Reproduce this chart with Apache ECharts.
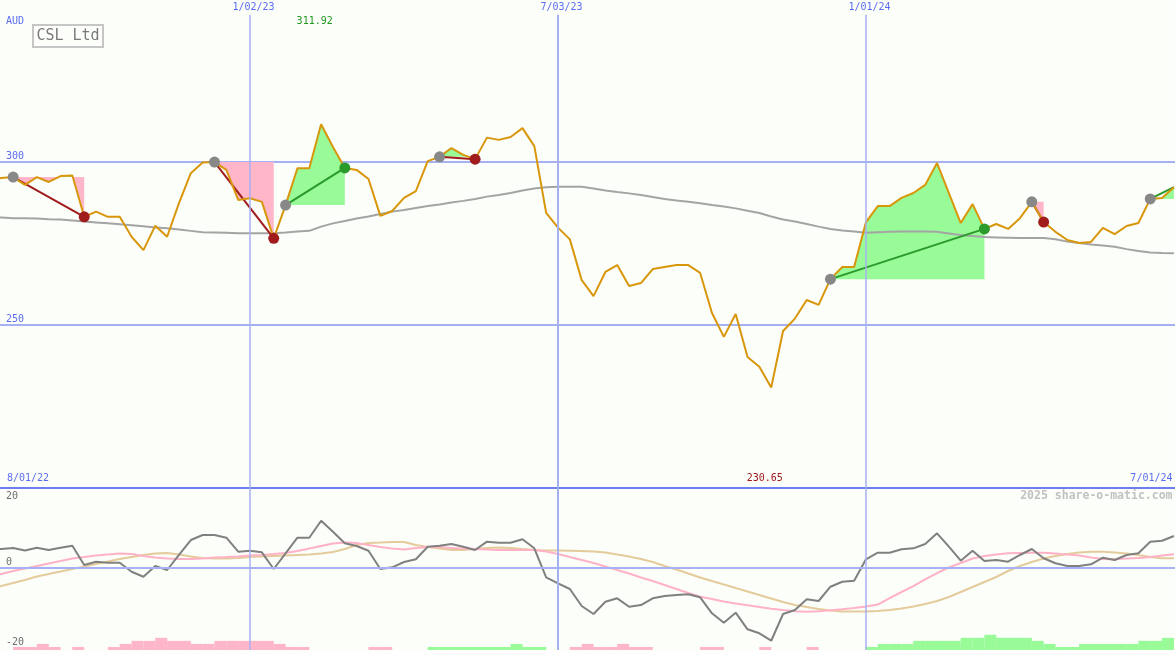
<!DOCTYPE html>
<html><head><meta charset="utf-8">
<script src="https://cdn.jsdelivr.net/npm/echarts@6/dist/echarts.min.js"></script>
<style>html,body{margin:0;padding:0;background:#fcfefa;}#c{width:1175px;height:650px;}</style>
</head><body><div id="c"></div>
<script>
// ---- data (weekly, index 0 = 8/01/22) ----
const price = [
294.6, 294.9, 295.2, 292.8, 295.2, 293.7, 295.5, 295.7, 283.0, 284.6,
283.0, 283.0, 276.9, 272.8, 280.3, 276.9, 287.2, 296.4, 299.7, 299.8,
297.4, 288.2, 288.7, 287.6, 276.4, 286.6, 297.9, 297.9, 311.4, 304.4,
298.0, 297.4, 294.6, 283.3, 284.8, 288.8, 290.9, 300.1, 301.4, 304.1,
302.0, 300.7, 307.3, 306.6, 307.5, 310.2, 304.7, 284.2, 279.7, 276.1,
263.6, 258.7, 266.1, 268.2, 261.8, 262.7, 267.0, 267.6, 268.2, 268.2,
265.8, 253.5, 246.2, 253.2, 240.0, 237.0, 230.65, 248.0, 251.8, 257.5,
256.0, 263.9, 267.6, 267.6, 281.4, 286.3, 286.3, 288.8, 290.3, 292.8,
299.5, 290.3, 281.1, 286.9, 279.3, 280.8, 279.3, 282.6, 287.6, 281.4,
278.4, 275.9, 275.0, 275.3, 279.6, 277.7, 280.2, 281.1, 288.5, 288.8,
292.1];
const movAvg = [
282.95, 282.8, 282.6, 282.6, 282.5, 282.3, 282.2, 281.9, 281.6, 281.3,
281.0, 280.7, 280.4, 280.1, 279.7, 279.5, 279.1, 278.7, 278.3, 278.2,
278.1, 278.0, 278.0, 278.0, 278.0, 278.2, 278.5, 278.7, 280.0, 281.0,
281.7, 282.5, 283.1, 283.9, 284.6, 285.1, 285.7, 286.3, 286.8, 287.4,
287.9, 288.5, 289.2, 289.7, 290.3, 291.1, 291.7, 292.1, 292.2, 292.2,
292.2, 291.7, 291.1, 290.6, 290.2, 289.7, 289.1, 288.5, 288.0, 287.6,
287.2, 286.6, 286.2, 285.6, 284.9, 284.2, 283.1, 282.2, 281.6, 280.8,
280.0, 279.3, 278.8, 278.5, 278.1, 278.3, 278.4, 278.5, 278.5, 278.5,
278.4, 277.9, 277.4, 277.1, 276.8, 276.7, 276.6, 276.5, 276.5, 276.5,
276.1, 275.4, 275.0, 274.5, 274.2, 273.8, 273.1, 272.5, 272.1, 271.9,
271.8];
const oscMain = [
5.52, 5.24, 5.52, 4.83, 5.60, 4.97, 5.60, 6.15, 0.83, 1.74,
1.46, 1.46, -1.02, -2.40, 0.55, -0.55, 3.59, 7.72, 9.10, 9.10,
8.36, 4.50, 4.77, 4.33, -0.28, 4.06, 8.36, 8.36, 13.05, 10.01,
6.81, 6.07, 4.77, -0.28, 0.19, 1.66, 2.40, 5.88, 6.15, 6.62,
5.88, 4.97, 7.26, 6.98, 6.98, 7.92, 5.43, -2.57, -4.22, -5.79,
-10.48, -12.69, -9.30, -8.36, -10.68, -10.21, -8.36, -7.72, -7.45, -7.26,
-8.08, -12.50, -15.09, -12.33, -16.91, -18.01, -20.06, -12.69, -11.59, -8.63,
-9.10, -5.16, -3.78, -3.50, 2.40, 4.22, 4.22, 5.16, 5.43, 6.62,
9.57, 5.88, 2.01, 4.77, 1.93, 2.21, 1.74, 3.59, 5.24, 2.68,
1.30, 0.55, 0.55, 1.02, 2.84, 2.21, 3.59, 4.06, 7.26, 7.53,
8.83];
const oscPink = [
-2.21, -1.66, -0.83, -0.14, 0.55, 1.24, 1.93, 2.62, 3.03, 3.45,
3.72, 4.00, 3.86, 3.31, 2.90, 2.62, 2.48, 2.48, 2.62, 2.90,
3.03, 3.17, 3.45, 3.59, 3.86, 4.14, 4.69, 5.38, 6.07, 6.76,
7.03, 6.90, 6.34, 5.79, 5.38, 5.10, 5.52, 5.79, 5.79, 5.52,
5.38, 5.24, 5.10, 4.97, 4.97, 4.97, 4.97, 4.55, 3.86, 3.03,
2.21, 1.38, 0.41, -0.55, -1.52, -2.62, -3.59, -4.69, -5.79, -6.90,
-7.92, -8.55, -9.24, -9.79, -10.29, -10.76, -11.23, -11.59, -11.94, -12.06,
-11.94, -11.67, -11.39, -11.03, -10.62, -10.07, -8.28, -6.62, -4.97, -3.17,
-1.38, 0.14, 1.38, 2.62, 3.31, 3.72, 4.06, 4.14, 4.22, 4.22,
4.00, 3.72, 3.45, 2.90, 2.48, 2.40, 2.62, 2.76, 3.03, 3.45,
3.78];
const oscTan = [
-5.79, -4.97, -4.14, -3.31, -2.34, -1.66, -0.97, -0.28, 0.41, 1.10,
1.79, 2.48, 3.03, 3.59, 4.00, 4.14, 3.72, 3.17, 2.76, 2.62,
2.62, 2.76, 3.03, 3.17, 3.31, 3.45, 3.59, 3.72, 4.00, 4.41,
5.24, 6.34, 6.90, 7.03, 7.17, 7.17, 6.34, 5.79, 5.38, 4.97,
4.97, 5.24, 5.52, 5.66, 5.52, 5.24, 4.97, 4.83, 4.83, 4.77,
4.69, 4.55, 4.28, 3.72, 3.17, 2.48, 1.66, 0.55, -0.41, -1.52,
-2.62, -3.59, -4.55, -5.52, -6.48, -7.45, -8.41, -9.38, -10.21, -10.76,
-11.31, -11.72, -12.00, -12.00, -12.00, -11.86, -11.59, -11.17, -10.62, -9.93,
-9.10, -8.00, -6.62, -5.24, -3.86, -2.48, -0.83, 0.55, 1.66, 2.62,
3.31, 3.86, 4.28, 4.50, 4.50, 4.28, 4.00, 3.59, 3.03, 2.68,
2.68];
// trend histogram per week interval (sign: + green, - pink)
const trendBars = [
0, 0, -1, -1, -2, -1, 0, -1, 0, 0,
-1, -2, -3, -3, -4, -3, -3, -2, -2, -3,
-3, -3, -3, -3, -2, -1, -1, 0, 0, 0,
0, 0, -1, -1, 0, 0, 0, 1, 1, 1,
1, 1, 1, 1, 2, 1, 1, 0, 0, -1,
-2, -1, -1, -2, -1, -1, 0, 0, 0, 0,
-1, -1, 0, 0, 0, -1, 0, 0, 0, -1,
0, 0, 0, 0, 1, 2, 2, 2, 3, 3,
3, 3, 4, 4, 5, 4, 4, 4, 3, 2,
1, 1, 2, 2, 2, 2, 2, 3, 3, 4];
const tradeEntry = [2, 19, 25, 38, 71, 88, 98];
const tradeExit  = [8, 24, 30, 41, 84, 89, 100];
const dateTickIdx = [22, 48, 74];
const dateTickLabels = ['1/02/23', '7/03/23', '1/01/24'];
const rangeLabels = ['8/01/22', '7/01/24'];
const priceTicks = [250, 300];
const oscTicks = [20, 0, -20];
const currencyLabel = 'AUD';
const titleText = 'CSL Ltd';
const maxLabel = '311.92';
const minLabel = '230.65';
const creditText = '2025 share-o-matic.com';

// ---- styles ----
const FONT = 'DejaVu Sans Mono';
const BLUE_TXT = '#5b6cf0';
const GRID = '#a6b1f3';
const DIVIDER = '#6e7ef0';
const GREEN_FILL = '#98fb98';
const PINK_FILL = '#ffb6c8';
const RED = '#a01c1c';
const GREEN = '#2a9a2a';
const vlineWidths = [1.5, 2, 1.5];
const lastIdx = price.length - 1;

const chart = echarts.init(document.getElementById('c'), null, {renderer: 'canvas'});

function renderFill(params, api) {
  const e = api.value(0), x = api.value(1);
  const level = price[e];
  const pts = [];
  for (let i = e; i <= x; i++) {
    if (i > e) {
      const p0 = price[i - 1], p1 = price[i];
      if ((p0 - level) * (p1 - level) < 0) {
        const t = (level - p0) / (p1 - p0);
        pts.push([i - 1 + t, level]);
      }
    }
    pts.push([i, price[i]]);
  }
  const poly = arr => arr.map(p => api.coord(p)).concat([api.coord([x, level]), api.coord([e, level])]);
  return {
    type: 'group',
    children: [
      {type: 'polygon', shape: {points: poly(pts.map(p => [p[0], Math.max(p[1], level)]))}, style: {fill: GREEN_FILL}},
      {type: 'polygon', shape: {points: poly(pts.map(p => [p[0], Math.min(p[1], level)]))}, style: {fill: PINK_FILL}}
    ]
  };
}
function renderTradeLine(params, api) {
  const e = api.value(0), x = api.value(1);
  const a = api.coord([e, price[e]]), b = api.coord([x, price[x]]);
  return {type: 'line', shape: {x1: a[0], y1: a[1], x2: b[0], y2: b[1]},
    style: {stroke: price[x] >= price[e] ? GREEN : RED, lineWidth: 2}};
}

const tradeData = tradeEntry.map((e, j) => [e, tradeExit[j], price[e]]);
const X_MIN = 0.89, X_MAX = 100.09;

const option = {
  backgroundColor: '#fcfefa',
  animation: false,
  grid: [
    {left: 0, right: 0, top: 0, height: 487.5},
    {left: 0, right: 0, top: 487.5, height: 162.5}
  ],
  xAxis: [
    {type: 'value', gridIndex: 0, min: X_MIN, max: X_MAX, position: 'top',
      axisLine: {show: false}, axisTick: {show: false}, splitLine: {show: false},
      axisLabel: {inside: true, margin: 2, customValues: dateTickIdx, padding: [0, 0, 0, 7],
        formatter: v => { const k = dateTickIdx.indexOf(v); return k >= 0 ? dateTickLabels[k] : ''; },
        color: BLUE_TXT, fontFamily: FONT, fontSize: 10}},
    {type: 'value', gridIndex: 1, min: X_MIN, max: X_MAX, position: 'top',
      axisLine: {show: true, onZero: false, lineStyle: {color: DIVIDER, width: 2}},
      axisTick: {show: false}, splitLine: {show: false}, axisLabel: {show: false}}
  ],
  yAxis: [
    {type: 'value', gridIndex: 0, min: 200, max: 349.5, interval: 50,
      axisLine: {show: false}, axisTick: {show: false},
      splitLine: {show: true, showMinLine: false, showMaxLine: false, lineStyle: {color: GRID, width: 2}},
      axisLabel: {inside: true, verticalAlign: 'bottom', margin: 6,
        formatter: v => priceTicks.includes(v) ? String(v) : '',
        color: BLUE_TXT, fontFamily: FONT, fontSize: 10}},
    {type: 'value', gridIndex: 1, min: -22.62, max: 22.21,
      axisLine: {show: false}, axisTick: {show: false}, splitLine: {show: false}, axisLabel: {show: false}},
    {type: 'value', gridIndex: 1, min: 0, max: 53.3,
      axisLine: {show: false}, axisTick: {show: false}, splitLine: {show: false}, axisLabel: {show: false}}
  ],
  series: [
    {type: 'custom', name: 'fills', xAxisIndex: 0, yAxisIndex: 0, z: 1, clip: true,
      renderItem: renderFill, encode: {x: [0, 1], y: 2}, data: tradeData, silent: true},
    {type: 'line', name: 'MA', xAxisIndex: 0, yAxisIndex: 0, z: 2, symbol: 'none',
      lineStyle: {color: '#a4a4a4', width: 2}, data: movAvg.map((v, i) => [i, v]), silent: true,
      markLine: {silent: true, symbol: 'none', label: {show: false},
        lineStyle: {color: GRID, type: 'solid'},
        data: dateTickIdx.map((t, j) => [{coord: [t, 345], lineStyle: {width: vlineWidths[j], color: GRID, type: 'solid'}}, {coord: [t, 200]}])}},
    {type: 'custom', name: 'tradeLines', xAxisIndex: 0, yAxisIndex: 0, z: 3, clip: true,
      renderItem: renderTradeLine, encode: {x: [0, 1], y: 2}, data: tradeData, silent: true},
    {type: 'line', name: 'price', xAxisIndex: 0, yAxisIndex: 0, z: 4, symbol: 'none',
      lineStyle: {color: '#d8960a', width: 2}, data: price.map((v, i) => [i, v]), silent: true},
    {type: 'scatter', name: 'entries', xAxisIndex: 0, yAxisIndex: 0, z: 5, symbolSize: 11,
      itemStyle: {color: '#888888', opacity: 1}, data: tradeEntry.map(e => [e, price[e]]), silent: true},
    {type: 'scatter', name: 'exits', xAxisIndex: 0, yAxisIndex: 0, z: 5, symbolSize: 11,
      itemStyle: {opacity: 1},
      data: tradeEntry.map((e, j) => ({e, x: tradeExit[j]})).filter(t => t.x !== lastIdx)
        .map(t => ({value: [t.x, price[t.x]], itemStyle: {opacity: 1, color: price[t.x] >= price[t.e] ? GREEN : RED}})),
      silent: true},
    {type: 'bar', name: 'trend', xAxisIndex: 1, yAxisIndex: 2, z: 1, barWidth: 12,
      data: trendBars.map((v, k) => ({value: [k + 0.5, Math.abs(v)], itemStyle: {color: v > 0 ? GREEN_FILL : PINK_FILL}}))
        .filter(d => d.value[1] > 0), silent: true},
    {type: 'line', name: 'tan', xAxisIndex: 1, yAxisIndex: 1, z: 2, symbol: 'none',
      lineStyle: {color: '#e4cb9b', width: 2}, data: oscTan.map((v, i) => [i, v]), silent: true,
      markLine: {silent: true, symbol: 'none', label: {show: false},
        data: [{yAxis: 0, lineStyle: {color: GRID, width: 2, type: 'solid'}}]
          .concat(dateTickIdx.map((t, j) => ({xAxis: t, lineStyle: {color: GRID, width: vlineWidths[j], type: 'solid'}})))}},
    {type: 'line', name: 'pink', xAxisIndex: 1, yAxisIndex: 1, z: 3, symbol: 'none',
      lineStyle: {color: '#ffb2c6', width: 2}, data: oscPink.map((v, i) => [i, v]), silent: true},
    {type: 'line', name: 'osc', xAxisIndex: 1, yAxisIndex: 1, z: 4, symbol: 'none',
      lineStyle: {color: '#808080', width: 2}, data: oscMain.map((v, i) => [i, v]), silent: true}
  ]
};
chart.setOption(option);

// ---- text overlays placed through the chart's own scales ----
const maxIdx = price.indexOf(Math.max(...price));
const minIdx = price.indexOf(Math.min(...price));
const xMaxPx = chart.convertToPixel({xAxisIndex: 0}, maxIdx);
const xMinPx = chart.convertToPixel({xAxisIndex: 0}, minIdx);
const txt = (x, y, text, color, extra) => Object.assign({type: 'text', x, y, silent: true,
  style: Object.assign({text, fill: color, font: '10px "' + FONT + '"', textAlign: 'left', textVerticalAlign: 'middle'}, extra || {})});
const graphics = [
  txt(6, 21, currencyLabel, BLUE_TXT),
  {type: 'rect', shape: {x: 33, y: 25, width: 70, height: 22}, style: {fill: 'none', stroke: '#c6c6c6', lineWidth: 2}, silent: true},
  txt(68, 36.5, titleText, '#7a7a7a', {font: '15px "' + FONT + '"', textAlign: 'center'}),
  txt(xMaxPx - 24.5, 21, maxLabel, '#1e9a1e'),
  txt(xMinPx - 24.5, 478.5, minLabel, '#a01818'),
  txt(7, 478.5, rangeLabels[0], BLUE_TXT),
  txt(1172.5, 478.5, rangeLabels[1], BLUE_TXT, {textAlign: 'right'}),
  txt(1172.5, 496, creditText, '#c2c2c2', {font: 'bold 11.5px "' + FONT + '"', textAlign: 'right'})
];
oscTicks.forEach(v => {
  const py = chart.convertToPixel({yAxisIndex: 1}, v);
  graphics.push(txt(6, py + (v === 0 ? -6 : (v < 0 ? 1.5 : 0.5)), String(v), '#6e6e6e'));
});
chart.setOption({graphic: graphics});
</script>
</body></html>
